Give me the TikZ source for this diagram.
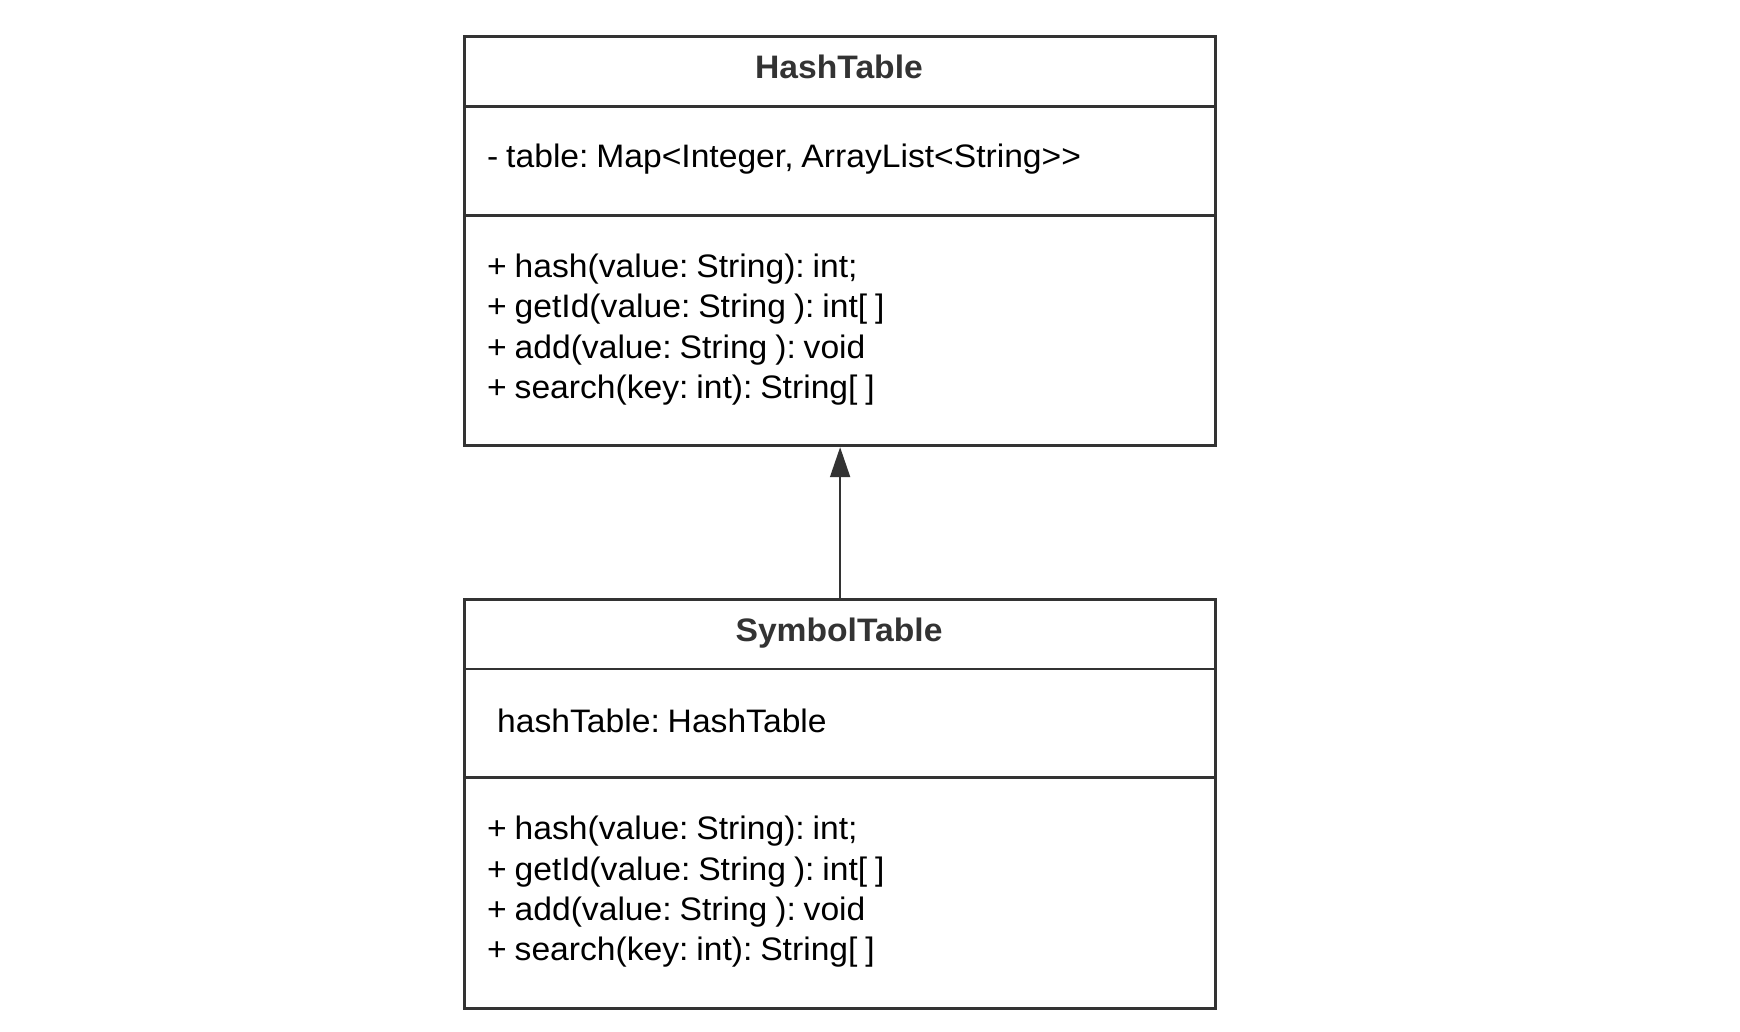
\documentclass[tikz,border=0pt]{standalone}
\usepackage{fontspec}
\setmainfont[FakeStretch=1.035,WordSpace=0.84]{Liberation Sans}
\usetikzlibrary{arrows.meta}
\definecolor{ink}{HTML}{333333}
\tikzset{
  classbox/.style={draw=ink, line width=3.2pt, minimum width=751pt, anchor=north west, inner sep=0pt},
  divider/.style={draw=ink, line width=2.6pt},
  title/.style={anchor=base, text=ink, font=\fontsize{32.5}{38}\selectfont\bfseries\frenchspacing, inner sep=0pt},
  member/.style={anchor=base west, text=black, font=\fontsize{32.5}{38}\selectfont\frenchspacing, inner sep=0pt},
  inherit/.style={draw=ink, line width=2pt, -{Triangle[width=20pt,length=30pt]}, color=ink}
}
\begin{document}
\begin{tikzpicture}[x=1pt,y=-1pt]
\useasboundingbox[fill=white] (0,0) rectangle (1740,1031);
% HashTable
\node[classbox, minimum height=409.5pt] (ht) at (463,34.5) {};
\draw[divider] ([yshift=-72pt]ht.north west) -- ([yshift=-72pt]ht.north east);
\draw[divider] ([yshift=-181pt]ht.north west) -- ([yshift=-181pt]ht.north east);
\node[title] (httitle) at (839,78) {HashTable};
\node[member] (htfield) at (487,167) {- table: Map<Integer, ArrayList<String>{}>};
\node[member] (htm1) at (487,277) {+ hash(value: String): int;};
\node[member] (htm2) at (487,317.5) {+ getId(value: String ): int[ ]};
\node[member] (htm3) at (487,358) {+ add(value: String ): void};
\node[member] (htm4) at (487,398) {+ search(key: int): String[ ]};
% SymbolTable
\node[classbox, minimum height=409pt] (st) at (463,598) {};
\draw[divider] ([yshift=-71pt]st.north west) -- ([yshift=-71pt]st.north east);
\draw[divider] ([yshift=-179.5pt]st.north west) -- ([yshift=-179.5pt]st.north east);
\node[title] (sttitle) at (839,641) {SymbolTable};
\node[member] (stfield) at (497,732) {hashTable: HashTable};
\node[member] (stm1) at (487,839) {+ hash(value: String): int;};
\node[member] (stm2) at (487,880) {+ getId(value: String ): int[ ]};
\node[member] (stm3) at (487,920.5) {+ add(value: String ): void};
\node[member] (stm4) at (487,960.5) {+ search(key: int): String[ ]};
% inheritance
\draw[inherit] (st.north) -- (ht.south);
\end{tikzpicture}
\end{document}
